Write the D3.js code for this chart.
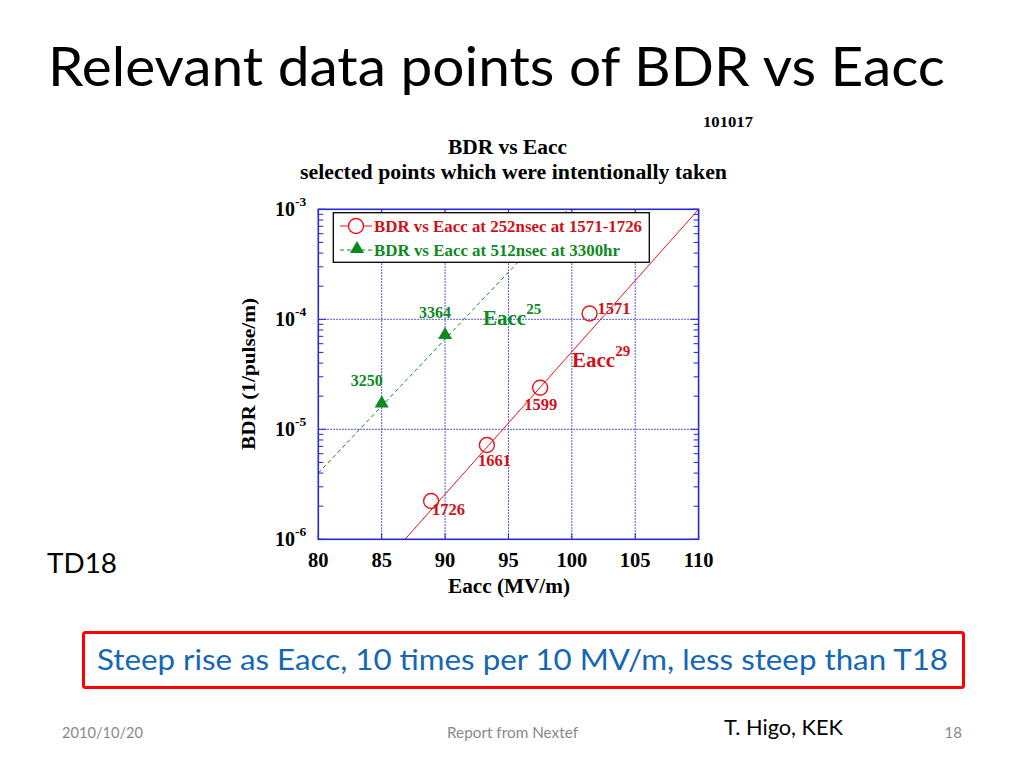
<!DOCTYPE html>
<html>
<head>
<meta charset="utf-8">
<script src="https://cdn.jsdelivr.net/npm/d3@7"></script>
<style>
  body { margin: 0; background: #fff; }
  svg { display: block; }
  .serif { font-family: "Liberation Serif", "Times New Roman", serif; font-weight: bold; }
  .slide { font-family: Lato, "Open Sans", sans-serif; }
</style>
</head>
<body>
<svg id="slide" width="1024" height="768"></svg>
<script>
// data
var redEacc = [88.9, 93.3, 97.5, 101.4];
var redBdr = [2.23e-6, 7.2e-6, 2.39e-5, 1.13e-4];
var redLabels = ['1726', '1661', '1599', '1571'];

var greenEacc = [85, 90];
var greenBdr = [1.72e-5, 7.2e-5];
var greenLabels = ['3250', '3364'];

// fit lines (end points)
var redFitEacc = [86.84, 110];
var redFitBdr = [1e-6, 1e-3];
var greenFitEacc = [80, 99.7];
var greenFitBdr = [4e-6, 1e-3];

var xTicks = [80, 85, 90, 95, 100, 105, 110];
var yTicks = [1e-6, 1e-5, 1e-4, 1e-3];
var yTickExp = ['-6', '-5', '-4', '-3'];

var svg = d3.select('#slide');

var pLeft = 318.3, pRight = 698.6, pTop = 209.3, pBottom = 539.3;

var x = d3.scaleLinear().domain([80, 110]).range([pLeft, pRight]);
var y = d3.scaleLog().domain([1e-6, 1e-3]).range([pBottom, pTop]);

var red = '#e8141b', redText = '#d0101a', green = '#0c8a1e', blue = '#1f1fe0';

// slide text
svg.append('text').attr('class', 'slide')
	.attr('x', 48).attr('y', 86)
	.attr('font-size', 54)
	.attr('textLength', 897).attr('lengthAdjust', 'spacingAndGlyphs')
	.text('Relevant data points of BDR vs Eacc');

svg.append('text').attr('class', 'slide')
	.attr('x', 47).attr('y', 573).attr('font-size', 27)
	.attr('textLength', 70).attr('lengthAdjust', 'spacingAndGlyphs')
	.text('TD18');

// chart titles
svg.append('text').attr('class', 'serif')
	.attr('x', 703).attr('y', 127).attr('font-size', 14)
	.attr('textLength', 50).attr('lengthAdjust', 'spacingAndGlyphs')
	.text('101017');
svg.append('text').attr('class', 'serif')
	.attr('x', 448).attr('y', 154).attr('font-size', 20)
	.attr('textLength', 119).attr('lengthAdjust', 'spacingAndGlyphs')
	.text('BDR vs Eacc');
svg.append('text').attr('class', 'serif')
	.attr('x', 300).attr('y', 179).attr('font-size', 20)
	.attr('textLength', 427).attr('lengthAdjust', 'spacingAndGlyphs')
	.text('selected  points which were intentionally taken');

var plot = svg.append('g');

plot.append('rect')
	.attr('x', pLeft).attr('y', pTop)
	.attr('width', pRight - pLeft).attr('height', pBottom - pTop)
	.attr('fill', '#fff');

// grid
plot.selectAll('line.gx').data(xTicks.slice(1, -1)).enter()
	.append('line').attr('class', 'gx')
	.attr('x1', function(d) { return x(d); }).attr('x2', function(d) { return x(d); })
	.attr('y1', pTop).attr('y2', pBottom)
	.attr('stroke', blue).attr('stroke-width', 1).attr('stroke-dasharray', '1.5,1.5');
plot.selectAll('line.gy').data(yTicks.slice(1, -1)).enter()
	.append('line').attr('class', 'gy')
	.attr('y1', function(d) { return y(d); }).attr('y2', function(d) { return y(d); })
	.attr('x1', pLeft).attr('x2', pRight)
	.attr('stroke', blue).attr('stroke-width', 1).attr('stroke-dasharray', '1.5,1.5');

// minor ticks on y
var minor = [];
for (var e = -6; e < -3; e++) {
	for (var m = 2; m < 10; m++) minor.push(m * Math.pow(10, e));
}
[pLeft, pRight].forEach(function(px) {
	var dir = px === pLeft ? 1 : -1;
	plot.selectAll(null).data(minor).enter().append('line')
		.attr('x1', px).attr('x2', px + dir * 5)
		.attr('y1', function(d) { return y(d); }).attr('y2', function(d) { return y(d); })
		.attr('stroke', blue).attr('stroke-width', 1);
	plot.selectAll(null).data(yTicks).enter().append('line')
		.attr('x1', px).attr('x2', px + dir * 8)
		.attr('y1', function(d) { return y(d); }).attr('y2', function(d) { return y(d); })
		.attr('stroke', blue).attr('stroke-width', 1);
});
[pTop, pBottom].forEach(function(py) {
	var dir = py === pBottom ? -1 : 1;
	plot.selectAll(null).data(xTicks).enter().append('line')
		.attr('y1', py).attr('y2', py + dir * 6)
		.attr('x1', function(d) { return x(d); }).attr('x2', function(d) { return x(d); })
		.attr('stroke', blue).attr('stroke-width', 1);
});

// fit lines
svg.append('clipPath').attr('id', 'clip').append('rect')
	.attr('x', pLeft).attr('y', pTop).attr('width', pRight - pLeft).attr('height', pBottom - pTop);

var line = d3.line()
	.x(function(d) { return x(d[0]); })
	.y(function(d) { return y(d[1]); });

plot.append('path')
	.attr('d', line(d3.zip(greenFitEacc, greenFitBdr)))
	.attr('clip-path', 'url(#clip)')
	.attr('fill', 'none').attr('stroke', green).attr('stroke-width', 1)
	.attr('stroke-dasharray', '4,3');
plot.append('path')
	.attr('d', line(d3.zip(redFitEacc, redFitBdr)))
	.attr('clip-path', 'url(#clip)')
	.attr('fill', 'none').attr('stroke', red).attr('stroke-width', 1);

// points
plot.selectAll('circle.pt').data(d3.zip(redEacc, redBdr)).enter()
	.append('circle').attr('class', 'pt')
	.attr('cx', function(d) { return x(d[0]); })
	.attr('cy', function(d) { return y(d[1]); })
	.attr('r', 7.5)
	.attr('fill', 'none').attr('stroke', red).attr('stroke-width', 1.4);

var tri = d3.symbol().type(d3.symbolTriangle).size(85);
plot.selectAll('path.tri').data(d3.zip(greenEacc, greenBdr)).enter()
	.append('path').attr('class', 'tri')
	.attr('d', tri)
	.attr('transform', function(d) { return 'translate(' + x(d[0]) + ',' + y(d[1]) + ')'; })
	.attr('fill', green);

// point labels
var redOffsets = [[1, 14], [-9, 21], [-16, 22], [8, 1]];
plot.selectAll('text.rl').data(redLabels).enter()
	.append('text').attr('class', 'serif rl')
	.attr('x', function(d, i) { return x(redEacc[i]) + redOffsets[i][0]; })
	.attr('y', function(d, i) { return y(redBdr[i]) + redOffsets[i][1]; })
	.attr('font-size', 16.5).attr('fill', redText)
	.text(function(d) { return d; });

var greenOffsets = [[-31, -17], [-26, -17]];
plot.selectAll('text.gl').data(greenLabels).enter()
	.append('text').attr('class', 'serif gl')
	.attr('x', function(d, i) { return x(greenEacc[i]) + greenOffsets[i][0]; })
	.attr('y', function(d, i) { return y(greenBdr[i]) + greenOffsets[i][1]; })
	.attr('font-size', 16).attr('fill', green)
	.text(function(d) { return d; });

function powerLabel(px, py, exp, color) {
	var t = plot.append('text').attr('class', 'serif')
		.attr('x', px).attr('y', py).attr('font-size', 21).attr('fill', color);
	t.append('tspan').text('Eacc');
	t.append('tspan').attr('dy', -11).attr('font-size', 15).text(exp);
}
powerLabel(483, 325, '25', green);
powerLabel(572, 367, '29', redText);

// border
plot.append('rect')
	.attr('x', pLeft).attr('y', pTop)
	.attr('width', pRight - pLeft).attr('height', pBottom - pTop)
	.attr('fill', 'none').attr('stroke', '#2a2ad0').attr('stroke-width', 1.6);

// legend
var lg = plot.append('g');
lg.append('rect')
	.attr('x', 333.3).attr('y', 212.7).attr('width', 316).attr('height', 49.6)
	.attr('fill', '#fff').attr('stroke', '#000').attr('stroke-width', 1.3);
lg.append('line').attr('x1', 340).attr('x2', 372).attr('y1', 226).attr('y2', 226)
	.attr('stroke', red).attr('stroke-width', 1);
lg.append('circle').attr('cx', 356).attr('cy', 226).attr('r', 7.5)
	.attr('fill', '#fff').attr('stroke', red).attr('stroke-width', 1.4);
lg.append('text').attr('class', 'serif')
	.attr('x', 374).attr('y', 232).attr('font-size', 17.5).attr('fill', redText)
	.attr('textLength', 268).attr('lengthAdjust', 'spacingAndGlyphs')
	.text('BDR vs Eacc at 252nsec at 1571-1726');
lg.append('line').attr('x1', 340).attr('x2', 372).attr('y1', 250).attr('y2', 250)
	.attr('stroke', green).attr('stroke-width', 1).attr('stroke-dasharray', '4,3');
lg.append('path').attr('d', tri).attr('transform', 'translate(357,249)').attr('fill', green);
lg.append('text').attr('class', 'serif')
	.attr('x', 374).attr('y', 256).attr('font-size', 17.5).attr('fill', green)
	.attr('textLength', 246).attr('lengthAdjust', 'spacingAndGlyphs')
	.text('BDR vs Eacc at 512nsec at 3300hr');

// axis labels
svg.selectAll('text.xt').data(xTicks).enter()
	.append('text').attr('class', 'serif xt')
	.attr('x', function(d) { return x(d); }).attr('y', 567)
	.attr('text-anchor', 'middle').attr('font-size', 20.5)
	.text(function(d) { return d; });

svg.selectAll('text.yt').data(yTicks).enter()
	.append('text').attr('class', 'serif yt')
	.attr('x', 275).attr('y', function(d) { return y(d) + 7; })
	.attr('font-size', 20)
	.each(function(d, i) {
		var t = d3.select(this);
		t.append('tspan').text('10');
		t.append('tspan').attr('dy', -10).attr('font-size', 13.5).text(yTickExp[i]);
	});

svg.append('text').attr('class', 'serif')
	.attr('x', 509).attr('y', 593).attr('text-anchor', 'middle').attr('font-size', 20.5)
	.attr('textLength', 122).attr('lengthAdjust', 'spacingAndGlyphs')
	.text('Eacc (MV/m)');

svg.append('text').attr('class', 'serif')
	.attr('transform', 'translate(255,374) rotate(-90)')
	.attr('text-anchor', 'middle').attr('font-size', 19)
	.attr('textLength', 152).attr('lengthAdjust', 'spacingAndGlyphs')
	.text('BDR (1/pulse/m)');

// statement box
svg.append('rect')
	.attr('x', 83.5).attr('y', 632.5).attr('width', 880).attr('height', 55)
	.attr('rx', 2)
	.attr('fill', '#fff').attr('stroke', '#ff0000').attr('stroke-width', 3);
svg.append('text').attr('class', 'slide')
	.attr('x', 97).attr('y', 670)
	.attr('font-size', 28).attr('fill', '#1467b3')
	.attr('textLength', 851).attr('lengthAdjust', 'spacingAndGlyphs')
	.text('Steep rise as Eacc, 10 times per 10 MV/m, less steep than T18');

// footer
svg.append('text').attr('class', 'slide')
	.attr('x', 62).attr('y', 738).attr('font-size', 15).attr('fill', '#898989')
	.attr('textLength', 81).attr('lengthAdjust', 'spacingAndGlyphs')
	.text('2010/10/20');
svg.append('text').attr('class', 'slide')
	.attr('x', 447).attr('y', 738)
	.attr('font-size', 15).attr('fill', '#898989')
	.attr('textLength', 131).attr('lengthAdjust', 'spacingAndGlyphs')
	.text('Report from Nextef');
svg.append('text').attr('class', 'slide')
	.attr('x', 724).attr('y', 735).attr('font-size', 21.5).attr('fill', '#000')
	.attr('textLength', 119).attr('lengthAdjust', 'spacingAndGlyphs')
	.text('T. Higo, KEK');
svg.append('text').attr('class', 'slide')
	.attr('x', 962).attr('y', 738).attr('text-anchor', 'end')
	.attr('font-size', 15).attr('fill', '#898989')
	.text('18');
</script>
</body>
</html>
